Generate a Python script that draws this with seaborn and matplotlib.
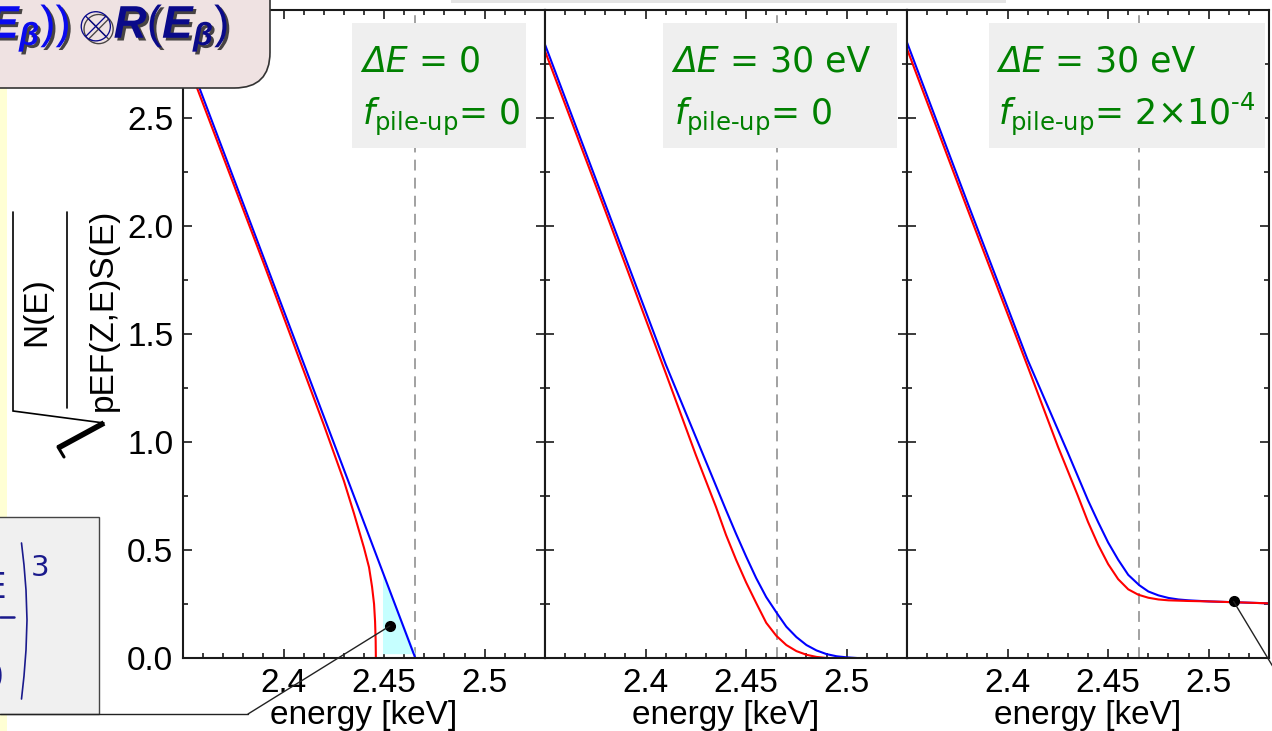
import numpy as np
import matplotlib
matplotlib.use("Agg")
import matplotlib.pyplot as plt
import seaborn as sns
import matplotlib.patheffects as pe
from matplotlib.patches import Rectangle, FancyBboxPatch, ConnectionPatch
from matplotlib.lines import Line2D
from matplotlib.ticker import FixedLocator, MultipleLocator

# ---------------- data ----------------
x_ticks = [2.40, 2.45, 2.50]
x_ticklabels = ["2.4", "2.45", "2.5"]
y_ticks = [0.0, 0.5, 1.0, 1.5, 2.0, 2.5]
y_ticklabels = ["0.0", "0.5", "1.0", "1.5", "2.0", "2.5"]
x_limits = (2.35, 2.53)
y_limits = (0.0, 3.0)
endpoint_keV = 2.4655

delta_e_labels = ["0", "30 eV", "30 eV"]
pileup_labels = ["0", "0", "2$\\times$10$^{\u2010" + "4}$"]
x_label = "energy [keV]"
y_numerator = "N(E)"
y_denominator = "pEF(Z,E)S(E)"

# panel 1 : Delta E = 0, no pile-up
blue1_x = [2.350, 2.400, 2.4655]
blue1_y = [2.84, 1.61, 0.00]
red1_x = [2.350, 2.370, 2.390, 2.410, 2.420, 2.430, 2.435, 2.440, 2.4425,
          2.444, 2.445, 2.4455, 2.4458, 2.4459]
red1_y = [2.81, 2.32, 1.83, 1.33, 1.08, 0.82, 0.67, 0.51, 0.42,
          0.33, 0.25, 0.17, 0.08, 0.00]
cyan1_x = [2.4492, 2.4655]
cyan1_top = [0.40, 0.02]
cyan1_bottom = [0.02, 0.02]
dot1 = (2.4528, 0.148)

# panel 2 : Delta E = 30 eV, no pile-up
blue2_x = [2.350, 2.380, 2.410, 2.430, 2.440, 2.445, 2.450, 2.455, 2.460,
           2.4655, 2.470, 2.475, 2.480, 2.485, 2.490, 2.495, 2.500, 2.505]
blue2_y = [2.84, 2.10, 1.36, 0.91, 0.685, 0.575, 0.47, 0.37, 0.282,
           0.205, 0.145, 0.097, 0.060, 0.035, 0.018, 0.008, 0.003, 0.0]
red2_x = [2.350, 2.380, 2.410, 2.425, 2.435, 2.440, 2.445, 2.450, 2.455,
          2.460, 2.465, 2.470, 2.475, 2.480, 2.485, 2.490, 2.493]
red2_y = [2.81, 2.07, 1.32, 0.94, 0.70, 0.57, 0.455, 0.35, 0.255,
          0.163, 0.103, 0.060, 0.032, 0.015, 0.005, 0.0, 0.0]

# panel 3 : Delta E = 30 eV, f_pile-up = 2e-4
blue3_x = [2.350, 2.380, 2.410, 2.430, 2.440, 2.445, 2.450, 2.455, 2.460,
           2.4655, 2.470, 2.475, 2.480, 2.485, 2.490, 2.500, 2.510, 2.520, 2.530]
blue3_y = [2.85, 2.11, 1.38, 0.95, 0.73, 0.63, 0.535, 0.455, 0.385,
           0.337, 0.308, 0.290, 0.278, 0.271, 0.267, 0.262, 0.259, 0.256, 0.253]
red3_x = [2.350, 2.380, 2.410, 2.425, 2.435, 2.440, 2.445, 2.450, 2.455,
          2.460, 2.465, 2.470, 2.475, 2.480, 2.490, 2.500, 2.510, 2.520, 2.530]
red3_y = [2.82, 2.08, 1.35, 0.98, 0.75, 0.63, 0.525, 0.435, 0.365,
          0.318, 0.293, 0.279, 0.271, 0.267, 0.264, 0.262, 0.259, 0.256, 0.253]
dot3 = (2.5124, 0.262)

blues = [(blue1_x, blue1_y), (blue2_x, blue2_y), (blue3_x, blue3_y)]
reds = [(red1_x, red1_y), (red2_x, red2_y), (red3_x, red3_y)]

# ---------------- style ----------------
sns.set_style("ticks")
plt.rcParams["font.family"] = ["Liberation Sans", "DejaVu Sans"]
plt.rcParams["text.color"] = "black"
plt.rcParams["mathtext.fontset"] = "custom"
plt.rcParams["mathtext.rm"] = "Liberation Sans"
plt.rcParams["mathtext.it"] = "Liberation Sans:italic"
plt.rcParams["mathtext.bf"] = "Liberation Sans:bold"
try:
    plt.rcParams["mathtext.bfit"] = "Liberation Sans:bold:italic"
except Exception:
    pass

W, H = 1272, 731
fig, axes = plt.subplots(1, 3, sharey=True, figsize=(W / 100, H / 100), dpi=100)
fig.subplots_adjust(left=183 / W, right=1269 / W, bottom=73 / H, top=1 - 10 / H, wspace=0)

spine_c = "#1a1a1a"
green = "#008000"
box_pos = [(0.467, 0.948), (0.327, 0.972), (0.2265, 0.989)]
text_x = [0.494, 0.355, 0.251]

for i, ax in enumerate(axes):
    ax.set_xlim(*x_limits)
    ax.set_ylim(*y_limits)
    ax.axvline(endpoint_keV, color="#9a9a9a", lw=1.3, ls=(0, (6, 4)), zorder=1)
    bx, by = blues[i]
    rx, ry = reds[i]
    if i == 0:
        ax.fill_between(cyan1_x, cyan1_bottom, cyan1_top, color="#c6ffff", lw=0, zorder=1.5)
    sns.lineplot(x=bx, y=by, ax=ax, color="#0000ff", lw=1.5, sort=False, estimator=None, zorder=2)
    sns.lineplot(x=rx, y=ry, ax=ax, color="#ff0000", lw=1.5, sort=False, estimator=None, zorder=2.5)

    for s in ax.spines.values():
        s.set_color(spine_c)
        s.set_linewidth(1.5)
        s.set_visible(True)
    ax.xaxis.set_major_locator(FixedLocator(x_ticks))
    ax.set_xticklabels(x_ticklabels)
    ax.xaxis.set_minor_locator(MultipleLocator(0.01))
    ax.yaxis.set_major_locator(FixedLocator(y_ticks))
    ax.yaxis.set_minor_locator(MultipleLocator(0.25))
    ax.tick_params(which="both", direction="in", top=True, right=True, bottom=True, left=True,
                   color=spine_c, width=1.2, labelcolor="black")
    ax.tick_params(which="major", length=6.5, labelsize=24, pad=7)
    ax.tick_params(which="minor", length=3.6)
    ax.set_xlabel(x_label, fontsize=24, labelpad=1, color="black")
    ax.set_ylabel("")
    if i == 0:
        ax.set_yticklabels(y_ticklabels)
    else:
        ax.tick_params(labelleft=False)

    # annotation box
    x0, x1 = box_pos[i]
    ax.add_patch(Rectangle((x0, 0.787), x1 - x0, 0.980 - 0.787, transform=ax.transAxes,
                           facecolor="#efefef", edgecolor="none", zorder=3, clip_on=False))
    t1 = ax.text(text_x[i], 0.905, "\u0394E", transform=ax.transAxes, color=green, fontsize=25,
                 family="DejaVu Sans", fontstyle="italic", ha="left", va="baseline", zorder=4)
    ax.annotate(" = " + delta_e_labels[i], xy=(1, 0), xycoords=t1, color=green, fontsize=25,
                family="DejaVu Sans", ha="left", va="bottom", zorder=4)
    ax.text(text_x[i], 0.8225, "$f_{\\mathrm{pile\u2010up}}$= " + pileup_labels[i], transform=ax.transAxes,
            color=green, fontsize=25, family="DejaVu Sans", math_fontfamily="dejavusans",
            ha="left", va="baseline", zorder=4)

# markers
axes[0].plot([dot1[0]], [dot1[1]], "o", color="black", ms=7, zorder=6)
axes[2].plot([dot3[0]], [dot3[1]], "o", color="black", ms=7, zorder=6)


def fx(px):
    return px / W


def fy(py):
    return 1 - py / H


# y label: square root of a fraction, built from text + strokes
fig.text(fx(37), fy(312), y_numerator, rotation=90, ha="center", va="center", fontsize=24)
fig.text(fx(103), fy(310), y_denominator, rotation=90, ha="center", va="center", fontsize=24)
fig.add_artist(Line2D([fx(67), fx(67)], [fy(212), fy(408)], transform=fig.transFigure,
                      color="black", lw=1.2))
fig.add_artist(Line2D([fx(13), fx(13), fx(104)], [fy(212), fy(411), fy(423)],
                      transform=fig.transFigure, color="black", lw=1.2, solid_joinstyle="miter"))
fig.add_artist(Line2D([fx(104), fx(58)], [fy(423), fy(448)], transform=fig.transFigure,
                      color="black", lw=4.0, solid_capstyle="butt"))
fig.add_artist(Line2D([fx(58), fx(64)], [fy(447), fy(457)], transform=fig.transFigure,
                      color="black", lw=2.2, solid_capstyle="round"))

# ---------------- slide decorations around the chart ----------------
fig.add_artist(Rectangle((0, fy(517)), fx(7), fy(88) - fy(517), transform=fig.transFigure,
                         facecolor="#ffffd4", edgecolor="none", zorder=1))
fig.add_artist(Rectangle((0, 0), fx(7), fy(714), transform=fig.transFigure,
                         facecolor="#ffffd4", edgecolor="none", zorder=1))
fig.add_artist(Rectangle((fx(451), fy(3)), fx(1006) - fx(451), fy(0) - fy(3), transform=fig.transFigure,
                         facecolor="#e4e4e4", edgecolor="none", zorder=1))
# pink formula box, top-left
fig.add_artist(FancyBboxPatch((fx(-60), fy(88)), fx(330), fy(-60) - fy(88),
                              boxstyle="round,pad=0,rounding_size=0.028", transform=fig.transFigure,
                              mutation_aspect=W / H,
                              facecolor="#efe2e2", edgecolor="#333333", lw=1.2, zorder=2))
shadow = [pe.withSimplePatchShadow(offset=(2, -2), shadow_rgbFace="black", alpha=0.7)]
fig.text(fx(70), fy(38), "$\\mathbfit{E}_{\\mathbfit{\\beta}}$))", ha="right", va="baseline",
         fontsize=33, color="#0a0aee", path_effects=shadow, zorder=3)
fig.text(fx(78), fy(38), "$\\otimes\\mathbfit{R}(\\mathbfit{E}_{\\mathbfit{\\beta}})$", ha="left",
         va="baseline", fontsize=33, color="#0a0a8a", path_effects=shadow, zorder=3)
# gray formula box, bottom-left (partly outside the picture)
navy = "#1a1a8c"
fig.add_artist(Rectangle((fx(-10), fy(714)), fx(109), fy(517) - fy(714), transform=fig.transFigure,
                         facecolor="#f0f0f0", edgecolor="#444444", lw=1.0, zorder=2))
fig.text(fx(6), fy(598), "E", ha="right", va="baseline", fontsize=26, color=navy,
         family="DejaVu Sans", zorder=3)
fig.add_artist(Line2D([0, fx(14)], [fy(617), fy(617)], transform=fig.transFigure,
                      color=navy, lw=1.8, zorder=3))
fig.text(fx(4), fy(687), "0", ha="right", va="baseline", fontsize=26, color=navy,
         family="DejaVu Sans", zorder=3)
paren_px = [21.5, 24.0, 26.0, 27.0, 26.0, 24.0, 21.5]
paren_py = [543, 565, 590, 620, 650, 676, 699]
fig.add_artist(Line2D([fx(v) for v in paren_px], [fy(v) for v in paren_py], transform=fig.transFigure,
                      color=navy, lw=1.2, zorder=3))
fig.text(fx(31), fy(576), "3", ha="left", va="baseline", fontsize=21, color=navy,
         family="DejaVu Sans", zorder=3)
# connector lines
fig.add_artist(Line2D([0, fx(248)], [fy(714), fy(714)], transform=fig.transFigure,
                      color="#222222", lw=1.0, zorder=5))
fig.add_artist(ConnectionPatch(xyA=dot1, coordsA=axes[0].transData,
                               xyB=(fx(248), fy(714)), coordsB=fig.transFigure,
                               color="#222222", lw=1.0, zorder=5))
fig.add_artist(ConnectionPatch(xyA=dot3, coordsA=axes[2].transData,
                               xyB=(fx(1290), fy(695)), coordsB=fig.transFigure,
                               color="#222222", lw=1.0, zorder=5))

fig.savefig("out.png", dpi=100)
